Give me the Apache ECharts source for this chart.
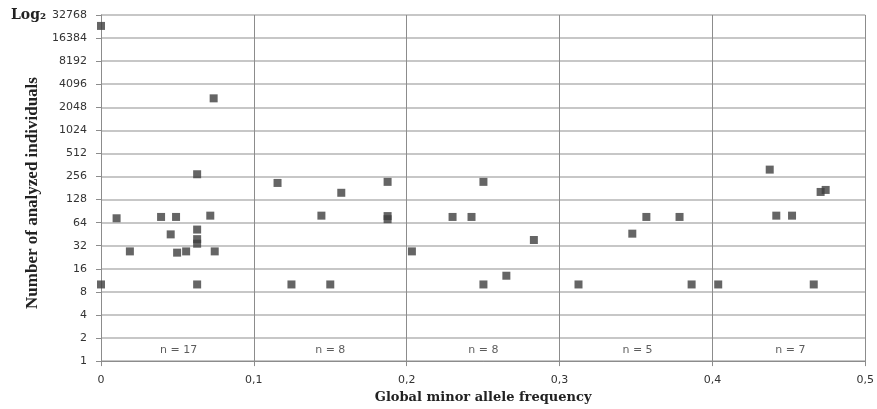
<!DOCTYPE html>
<html>
<head>
<meta charset="utf-8">
<script src="https://cdn.jsdelivr.net/npm/echarts@6/dist/echarts.min.js"></script>
<style>
  html, body { margin: 0; padding: 0; background: #fff; }
  #chart { width: 877px; height: 409px; }
</style>
</head>
<body>
<div id="chart"></div>
<script>
// global minor allele frequency (x) and number of analyzed individuals (y)
const mafValues = [
  0, 0, 0.0102, 0.0189, 0.0393, 0.0456, 0.0491, 0.0498, 0.0557,
  0.0629, 0.0629, 0.0629, 0.0629, 0.0629, 0.0715, 0.0737, 0.0744,
  0.1155, 0.1246, 0.1442, 0.150, 0.1572, 0.1875, 0.1875, 0.1875,
  0.2034, 0.230, 0.2424, 0.2502, 0.2502, 0.2652, 0.2832,
  0.3124, 0.3476, 0.3568, 0.3785, 0.3864,
  0.4038, 0.4375, 0.4418, 0.4521, 0.4663, 0.4708, 0.4741
];
const individuals = [
  23600, 10, 73, 27, 76, 45, 76, 26, 27,
  274, 52, 39, 34, 10, 79, 2680, 27,
  211, 10, 79, 10, 157, 218, 78, 71,
  27, 76, 76, 218, 10, 13, 38,
  10, 46, 76, 76, 10,
  10, 315, 79, 79, 10, 161, 171
];

// group counts shown along the bottom of each 0.1 band
const groupCenters = [0.0508, 0.150, 0.2502, 0.351, 0.451];
const groupLabels = ['n = 17', 'n = 8', 'n = 8', 'n = 5', 'n = 7'];
const groupLabelY = 1.39;

const chart = echarts.init(document.getElementById('chart'));

const points = mafValues.map((x, i) => [x, individuals[i]]);
const groups = groupCenters.map((x, i) => ({ value: [x, groupLabelY], name: groupLabels[i] }));

chart.setOption({
  animation: false,
  grid: { left: 101, right: 10, top: 15, bottom: 46, containLabel: false },
  xAxis: {
    type: 'value',
    min: 0,
    max: 0.5,
    interval: 0.1,
    name: 'Global minor allele frequency',
    nameLocation: 'middle',
    nameGap: 27,
    nameTextStyle: {
      fontFamily: 'DejaVu Serif',
      fontWeight: 'bold',
      fontSize: 13,
      color: '#222'
    },
    axisLine: { show: true, lineStyle: { color: '#8c8c8c' } },
    axisTick: { show: true, length: 5, lineStyle: { color: '#8c8c8c' } },
    axisLabel: {
      margin: 14,
      fontFamily: 'DejaVu Sans',
      fontSize: 11,
      color: '#333',
      formatter: (v) => (v === 0 ? '0' : String(Math.round(v * 10) / 10).replace('.', ','))
    },
    splitLine: { show: true, lineStyle: { color: '#8c8c8c', width: 1 } }
  },
  yAxis: {
    type: 'log',
    logBase: 2,
    min: 1,
    max: 32768,
    interval: 1,
    axisLine: { show: true, lineStyle: { color: '#8c8c8c' } },
    axisTick: { show: true, length: 5, lineStyle: { color: '#8c8c8c' } },
    axisLabel: {
      margin: 14,
      fontFamily: 'DejaVu Sans',
      fontSize: 11,
      color: '#333',
      formatter: (v) => String(Math.round(v))
    },
    splitLine: { show: true, lineStyle: { color: '#b4b4b4', width: 1.5 } }
  },
  graphic: [
    {
      type: 'text',
      left: 11,
      top: 8,
      style: {
        text: 'Log₂',
        font: 'bold 14px "DejaVu Serif"',
        fill: '#222'
      }
    },
    {
      type: 'text',
      x: 33,
      y: 193,
      rotation: Math.PI / 2,
      style: {
        text: 'Number of analyzed individuals',
        font: 'bold 17px "Liberation Serif"',
        fill: '#222',
        align: 'center',
        verticalAlign: 'middle'
      }
    }
  ],
  series: [
    {
      type: 'scatter',
      symbol: 'rect',
      symbolSize: 8,
      itemStyle: { color: '#3f3f3f' },
      data: points
    },
    {
      type: 'scatter',
      symbolSize: 0,
      silent: true,
      data: groups,
      label: {
        show: true,
        position: 'inside',
        formatter: (p) => p.name,
        fontFamily: 'DejaVu Sans',
        fontSize: 11,
        color: '#333'
      }
    }
  ]
});
</script>
</body>
</html>
